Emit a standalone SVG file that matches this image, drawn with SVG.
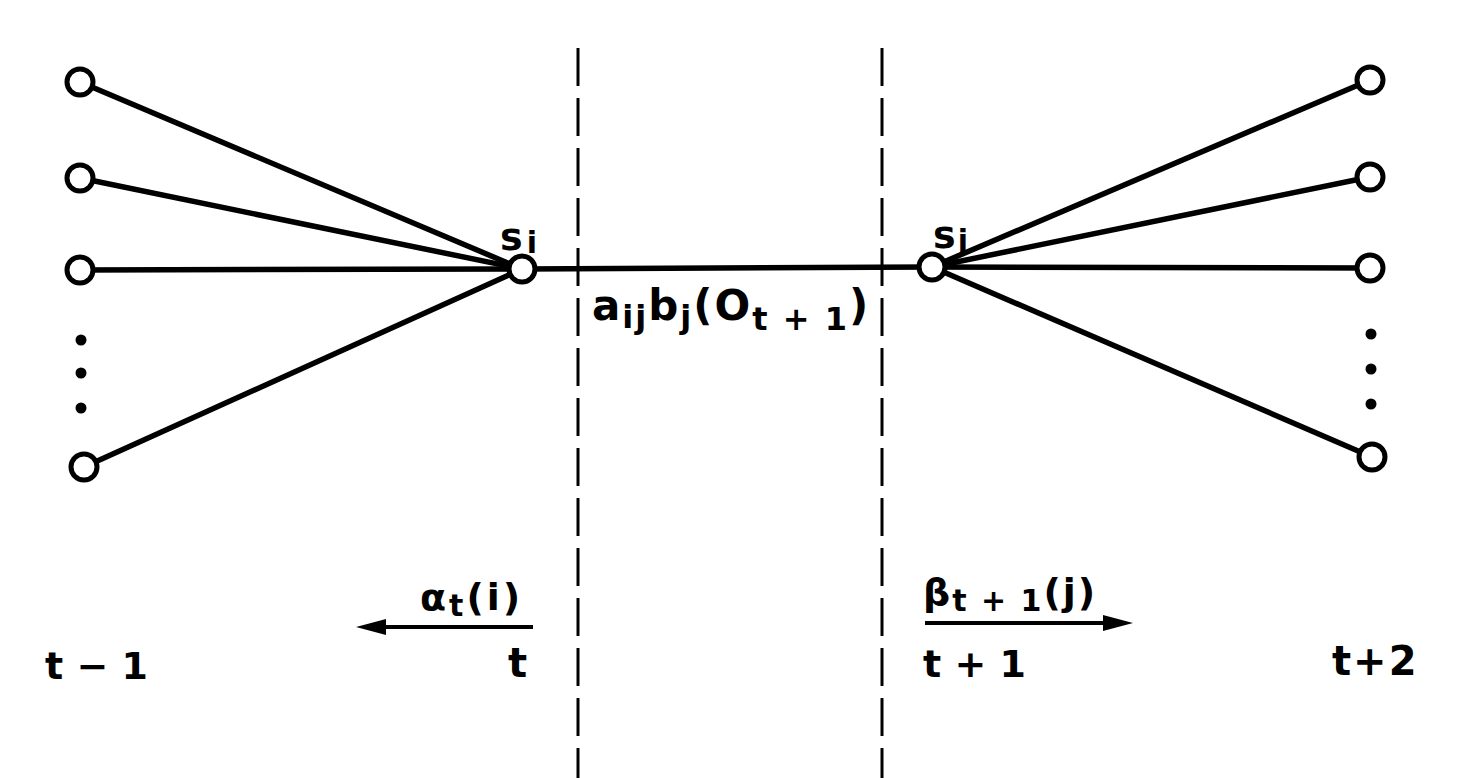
<svg xmlns="http://www.w3.org/2000/svg" width="1474" height="778" viewBox="0 0 1474 778">
<defs>
<style>
.edge{stroke:#000;stroke-width:5.5;fill:none;stroke-linecap:round}
.node{fill:#fff;stroke:#000;stroke-width:5}
.dot{fill:#000}
.dash{stroke:#000;stroke-width:3;stroke-dasharray:38 12;fill:none}
.lbl{font-family:"DejaVu Sans","Liberation Sans",sans-serif;font-weight:bold;fill:#000}
.arr{stroke:#000;stroke-width:4;fill:none}
.head{fill:#000}
</style>
</defs>
<rect width="1474" height="778" fill="#fff"/>
<g id="dividers">
<line class="dash" x1="578" y1="48" x2="578" y2="778"/>
<line class="dash" x1="882" y1="48" x2="882" y2="778"/>
</g>
<g id="connectors">
<line class="edge" x1="80" y1="82" x2="522" y2="269"/>
<line class="edge" x1="80" y1="178" x2="522" y2="269"/>
<line class="edge" x1="80" y1="270" x2="522" y2="269"/>
<line class="edge" x1="84" y1="467" x2="522" y2="269"/>
<line class="edge" x1="522" y1="269" x2="932" y2="267"/>
<line class="edge" x1="932" y1="267" x2="1370" y2="80"/>
<line class="edge" x1="932" y1="267" x2="1370" y2="177"/>
<line class="edge" x1="932" y1="267" x2="1370" y2="268"/>
<line class="edge" x1="932" y1="267" x2="1372" y2="457"/>
<line class="arr" x1="533" y1="627" x2="370" y2="627"/>
<polygon class="head" points="356,627 386,619 386,635"/>
<line class="arr" x1="925" y1="623" x2="1115" y2="623"/>
<polygon class="head" points="1133,623 1103,615 1103,631"/>
</g>
<g id="left-nodes">
<circle class="node" cx="80" cy="82" r="13"/>
<circle class="node" cx="80" cy="178" r="13"/>
<circle class="node" cx="80" cy="270" r="13"/>
<circle class="dot" cx="81" cy="340" r="5.5"/>
<circle class="dot" cx="81" cy="373" r="5.5"/>
<circle class="dot" cx="81" cy="408" r="5.5"/>
<circle class="node" cx="84" cy="467" r="13"/>
</g>
<g id="right-nodes">
<circle class="node" cx="1370" cy="80" r="13"/>
<circle class="node" cx="1370" cy="177" r="13"/>
<circle class="node" cx="1370" cy="268" r="13"/>
<circle class="dot" cx="1371" cy="334" r="5.5"/>
<circle class="dot" cx="1371" cy="369" r="5.5"/>
<circle class="dot" cx="1371" cy="404" r="5.5"/>
<circle class="node" cx="1372" cy="457" r="13"/>
</g>
<g id="node-si">
<circle class="node" cx="522" cy="269" r="13"/>
<text class="lbl" x="500" y="250" font-size="38" letter-spacing="4">s<tspan font-size="30" dy="3">i</tspan></text>
</g>
<g id="node-sj">
<circle class="node" cx="932" cy="267" r="13"/>
<text class="lbl" x="933" y="248" font-size="38" letter-spacing="2">s<tspan font-size="30" dy="3">j</tspan></text>
</g>
<g id="labels">
<text class="lbl" x="592" y="320" font-size="42" letter-spacing="2">a<tspan font-size="32" dy="8">ij</tspan><tspan dy="-8">b</tspan><tspan font-size="32" dy="8">j</tspan><tspan dy="-8">(O</tspan><tspan font-size="32" dy="10">t + 1</tspan><tspan dy="-10">)</tspan></text>
<text class="lbl" x="420" y="610" font-size="38" letter-spacing="3">α<tspan font-size="30" dy="6">t</tspan><tspan dy="-6">(i)</tspan></text>
<text class="lbl" x="508" y="677" font-size="40">t</text>
<text class="lbl" x="923" y="605" font-size="38" letter-spacing="2">β<tspan font-size="30" dy="6">t + 1</tspan><tspan dy="-6">(j)</tspan></text>
<text class="lbl" x="923" y="677" font-size="38">t + 1</text>
<text class="lbl" x="45" y="679" font-size="38">t − 1</text>
<text class="lbl" x="1332" y="675" font-size="40" letter-spacing="2">t+2</text>
</g>
</svg>
